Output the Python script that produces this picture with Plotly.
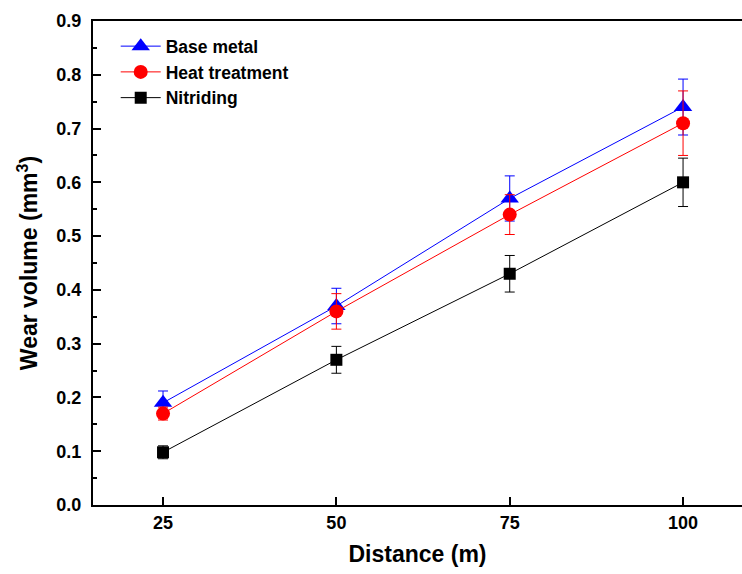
import plotly.graph_objects as go

distance = [25, 50, 75, 100]
base_metal = [0.19, 0.37, 0.57, 0.74]
base_metal_err = [0.022, 0.033, 0.042, 0.052]
heat_treatment = [0.17, 0.36, 0.54, 0.71]
heat_treatment_err = [0.012, 0.033, 0.037, 0.06]
nitriding = [0.098, 0.27, 0.43, 0.60]
nitriding_err = [0.012, 0.025, 0.034, 0.045]

font_family = "Liberation Sans, Arial, sans-serif"

fig = go.Figure()
series = [
    ("Base metal", base_metal, base_metal_err, "#0000ff", "triangle-up", 16),
    ("Heat treatment", heat_treatment, heat_treatment_err, "#ff0000", "circle", 14),
    ("Nitriding", nitriding, nitriding_err, "#000000", "square", 12),
]
for name, y, err, color, sym, size in series:
    fig.add_trace(go.Scatter(
        x=distance, y=y, name=name, mode="lines+markers",
        line=dict(color=color, width=1),
        marker=dict(symbol=sym, size=size, color=color, line=dict(width=0)),
        error_y=dict(type="data", array=err, visible=True, color=color,
                     thickness=1, width=5),
    ))

fig.update_layout(
    width=742, height=574,
    margin=dict(l=93, r=0, t=21, b=69),
    paper_bgcolor="white", plot_bgcolor="white",
    font=dict(family=font_family, color="black"),
    showlegend=True,
    legend=dict(x=0.035, y=0.985, xanchor="left", yanchor="top",
                bgcolor="rgba(0,0,0,0)", borderwidth=0,
                font=dict(size=17.5, family=font_family, weight="bold"),
                itemwidth=40, tracegroupgap=0),
    xaxis=dict(
        range=[14.9, 108.5], tickvals=distance,
        ticktext=[str(d) for d in distance],
        ticks="inside", ticklen=8, tickwidth=1.5, tickcolor="black",
        showline=True, linewidth=2, linecolor="black", mirror=True,
        showgrid=False, zeroline=False, automargin=False,
        tickfont=dict(size=18, family=font_family, weight="bold"),
        title=dict(text="Distance (m)", font=dict(size=23, family=font_family, weight="bold"),
                   standoff=14),
    ),
    yaxis=dict(
        range=[0, 0.9], dtick=0.1, tickformat=".1f",
        ticks="inside", ticklen=8, tickwidth=1.5, tickcolor="black",
        minor=dict(dtick=0.05, ticks="inside", ticklen=4, tickwidth=1.5, tickcolor="black"),
        showline=True, linewidth=2, linecolor="black", mirror=False,
        showgrid=False, zeroline=False, automargin=False,
        ticklabelstandoff=6,
        tickfont=dict(size=18, family=font_family, weight="bold"),
        title=dict(text="Wear volume (mm<sup>3</sup>)",
                   font=dict(size=23, family=font_family, weight="bold"), standoff=12),
    ),
)

fig.write_html(
    "out.html",
    config={"displayModeBar": False},
    post_script="document.body.style.margin='0';document.body.style.overflow='hidden';",
)
